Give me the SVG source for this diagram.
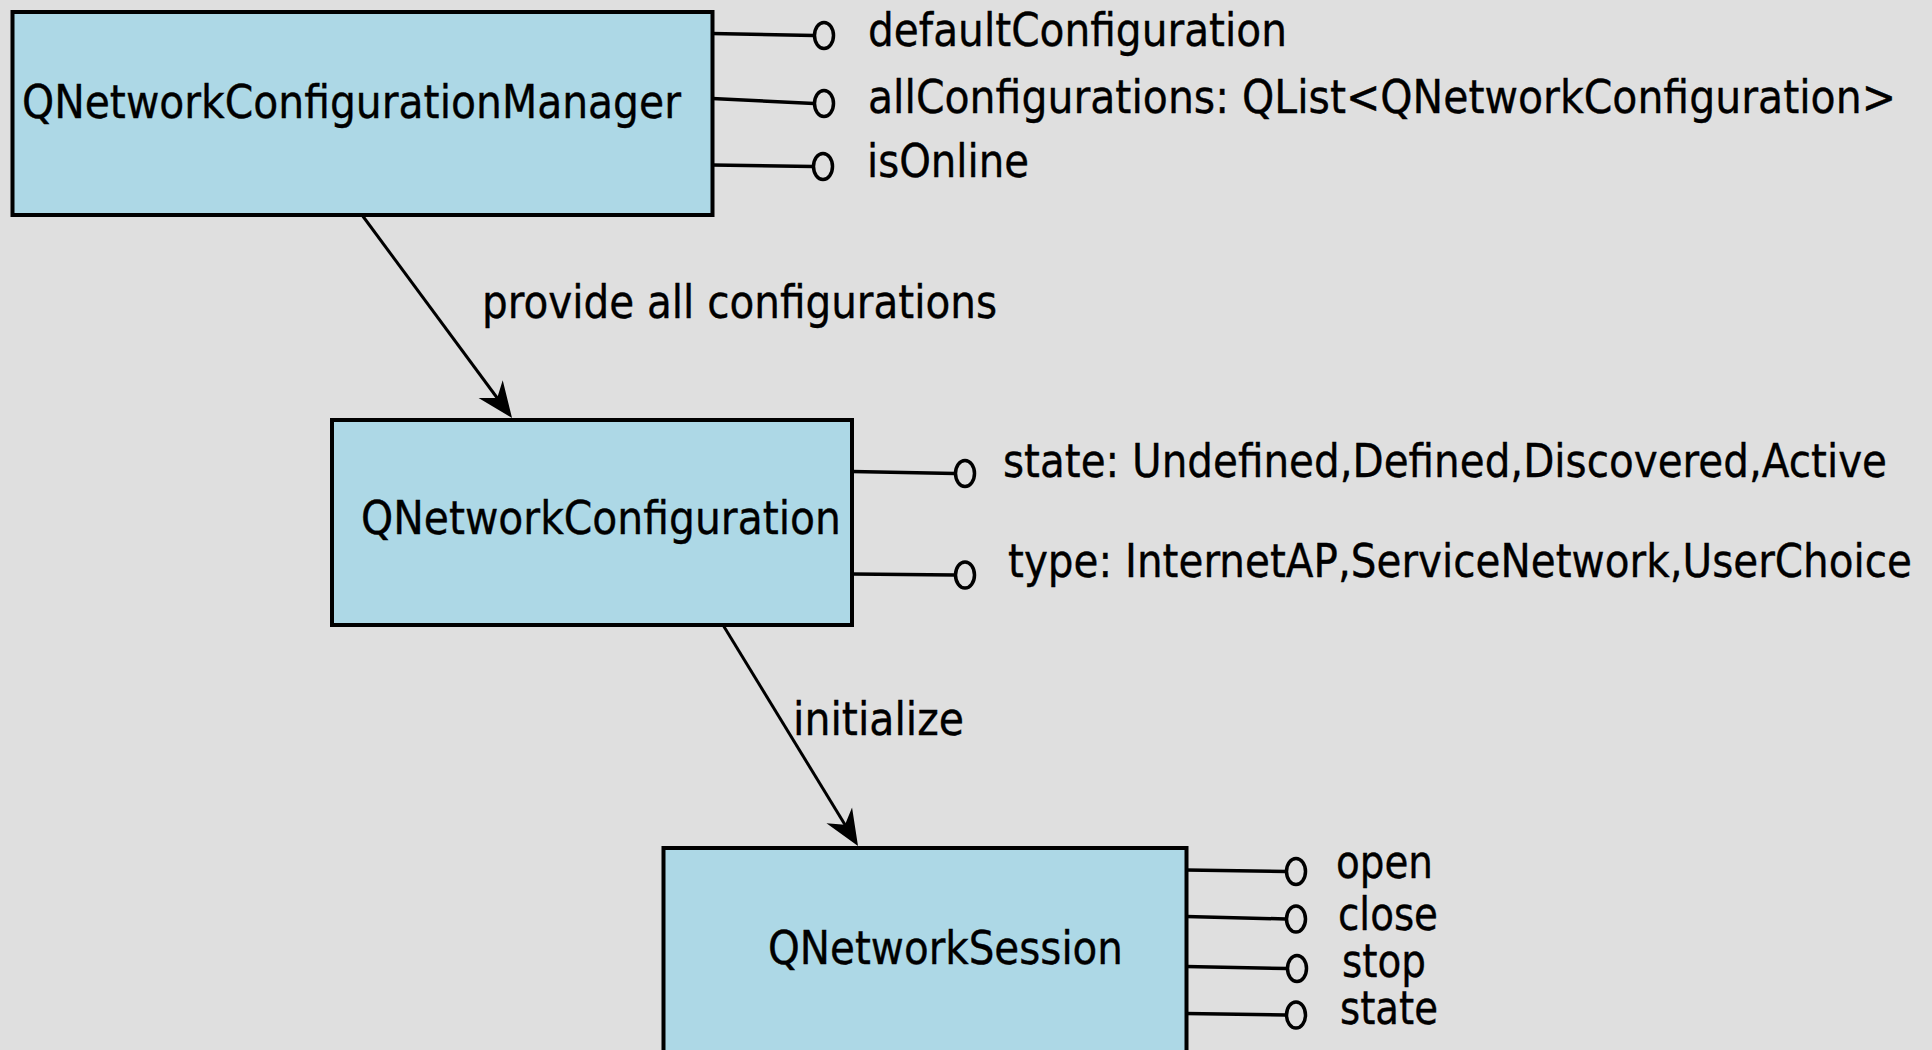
<svg xmlns="http://www.w3.org/2000/svg" width="1932" height="1050" viewBox="0 0 1932 1050">
<style>
.bg{fill:#dfdfdf}
.box{fill:#add8e6;stroke:#000;stroke-width:4}
.t{font-family:"DejaVu Sans","Liberation Sans",sans-serif;font-size:47px;fill:#000;stroke:#000;stroke-width:0.4}
.port{fill:none;stroke:#000;stroke-width:3.5}
.pin{fill:#dfdfdf;stroke:#000;stroke-width:3.5}
.edge{fill:none;stroke:#000;stroke-width:3}
</style>
<defs>
<marker id="arr" viewBox="-40 -18 42 36" refX="-10" refY="0" markerWidth="42" markerHeight="36" markerUnits="userSpaceOnUse" orient="auto">
<path d="M0,0 L-36,-15 L-25,0 L-36,15 Z" fill="#000"/>
</marker>
</defs>
<rect class="bg" x="0" y="0" width="1932" height="1050"/>

<g id="connectors">
<line class="edge" x1="362" y1="215" x2="506.1" y2="410" marker-end="url(#arr)"/>
<text class="t" x="482" y="318" textLength="515" lengthAdjust="spacingAndGlyphs">provide all configurations</text>
<line class="edge" x1="723" y1="625" x2="852.8" y2="837.5" marker-end="url(#arr)"/>
<text class="t" x="793" y="735" textLength="171" lengthAdjust="spacingAndGlyphs">initialize</text>
</g>

<g id="QNetworkConfigurationManager">
<rect class="box" x="12.5" y="12" width="700" height="203"/>
<text class="t" x="22" y="118" textLength="659" lengthAdjust="spacingAndGlyphs">QNetworkConfigurationManager</text>
<path class="port" d="M712,33.5 L814,35.5 M712,98.5 L814,103.5 M712,165 L813,166.5"/>
<ellipse class="pin" cx="824" cy="35.5" rx="9.5" ry="13"/>
<ellipse class="pin" cx="824" cy="103.5" rx="9.5" ry="13"/>
<ellipse class="pin" cx="823" cy="166.5" rx="9.5" ry="13"/>
<text class="t" x="868" y="46" textLength="419" lengthAdjust="spacingAndGlyphs">defaultConfiguration</text>
<text class="t" x="868" y="113" textLength="1028" lengthAdjust="spacingAndGlyphs">allConfigurations: QList&lt;QNetworkConfiguration&gt;</text>
<text class="t" x="867" y="177" textLength="162" lengthAdjust="spacingAndGlyphs">isOnline</text>
</g>

<g id="QNetworkConfiguration">
<rect class="box" x="332" y="420" width="520" height="205"/>
<text class="t" x="361" y="534" textLength="480" lengthAdjust="spacingAndGlyphs">QNetworkConfiguration</text>
<path class="port" d="M852,471.5 L955,473.5 M852,574 L955,575"/>
<ellipse class="pin" cx="965" cy="473.5" rx="9.5" ry="13"/>
<ellipse class="pin" cx="965" cy="575" rx="9.5" ry="13"/>
<text class="t" x="1003" y="477" textLength="884" lengthAdjust="spacingAndGlyphs">state: Undefined,Defined,Discovered,Active</text>
<text class="t" x="1008" y="577" textLength="904" lengthAdjust="spacingAndGlyphs">type: InternetAP,ServiceNetwork,UserChoice</text>
</g>

<g id="QNetworkSession">
<rect class="box" x="663.5" y="848" width="523" height="260"/>
<text class="t" x="768" y="964" textLength="355" lengthAdjust="spacingAndGlyphs">QNetworkSession</text>
<path class="port" d="M1186,870 L1286,871.5 M1186,916.5 L1286,919 M1186,966.5 L1287,968.5 M1186,1013.5 L1286,1015"/>
<ellipse class="pin" cx="1296" cy="871.5" rx="9.5" ry="13"/>
<ellipse class="pin" cx="1296" cy="919" rx="9.5" ry="13"/>
<ellipse class="pin" cx="1297" cy="968.5" rx="9.5" ry="13"/>
<ellipse class="pin" cx="1296" cy="1015" rx="9.5" ry="13"/>
<text class="t" x="1336" y="878" textLength="97" lengthAdjust="spacingAndGlyphs">open</text>
<text class="t" x="1338" y="930" textLength="100" lengthAdjust="spacingAndGlyphs">close</text>
<text class="t" x="1342" y="977" textLength="84" lengthAdjust="spacingAndGlyphs">stop</text>
<text class="t" x="1340" y="1024" textLength="98" lengthAdjust="spacingAndGlyphs">state</text>
</g>
</svg>
